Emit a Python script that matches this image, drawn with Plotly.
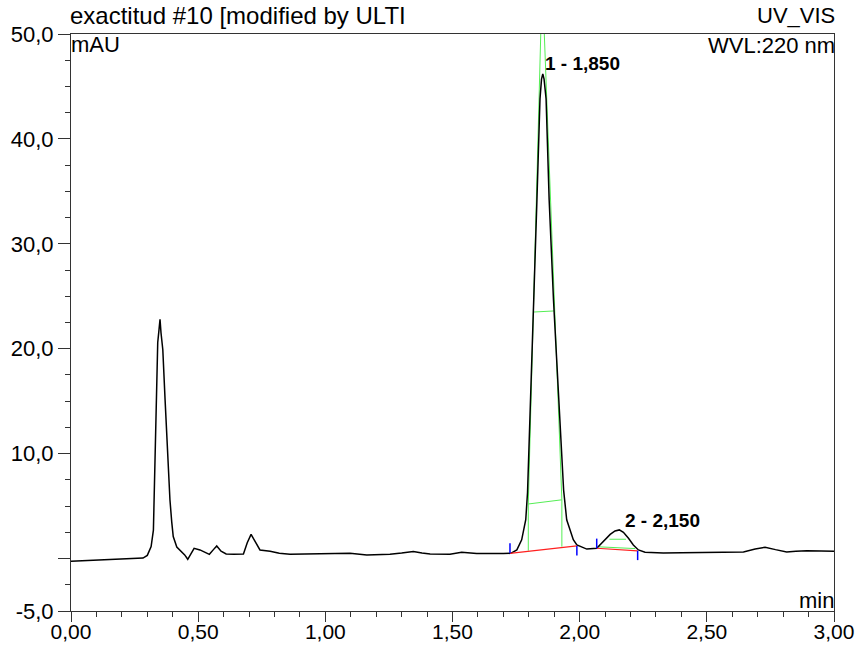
import plotly.graph_objects as go

# ---- chromatogram trace (min, mAU) ----
time_min = [0.000, 0.030, 0.080, 0.130, 0.180, 0.230, 0.270, 0.283, 0.300, 0.315,
            0.324, 0.328, 0.333, 0.337, 0.341, 0.346, 0.350, 0.354, 0.361, 0.370,
            0.379, 0.389, 0.396, 0.402, 0.416, 0.435, 0.447, 0.459, 0.470, 0.484,
            0.507, 0.525, 0.544, 0.560, 0.573, 0.590, 0.610, 0.640, 0.678, 0.693,
            0.708, 0.722, 0.743, 0.783, 0.819, 0.861, 0.920, 0.979, 1.040, 1.097,
            1.163, 1.254, 1.300, 1.346, 1.380, 1.412, 1.490, 1.536, 1.595, 1.650,
            1.700, 1.729, 1.753, 1.772, 1.781, 1.788, 1.795, 1.807, 1.821, 1.832,
            1.844, 1.850, 1.855, 1.860, 1.868, 1.880, 1.897, 1.917, 1.937, 1.949,
            1.962, 1.975, 1.989, 2.028, 2.067, 2.093, 2.120, 2.139, 2.156, 2.172,
            2.192, 2.211, 2.231, 2.257, 2.329, 2.400, 2.460, 2.565, 2.644, 2.690,
            2.729, 2.770, 2.814, 2.850, 2.893, 2.950, 3.000]
signal_mau = [-0.25, -0.22, -0.15, -0.08, -0.04, 0.00, 0.02, 0.05, 0.30, 1.14,
              2.70, 7.2, 13.5, 18.9, 20.6, 21.8, 22.8, 21.5, 19.9, 15.1,
              10.4, 5.6, 3.5, 2.1, 1.1, 0.66, 0.35, -0.07, 0.45, 0.98,
              0.82, 0.62, 0.40, 0.85, 1.20, 0.70, 0.44, 0.42, 0.44, 1.5,
              2.3, 1.7, 0.82, 0.70, 0.50, 0.41, 0.45, 0.44, 0.48, 0.50,
              0.34, 0.41, 0.52, 0.66, 0.52, 0.44, 0.41, 0.60, 0.47, 0.45,
              0.47, 0.50, 0.82, 1.78, 2.70, 3.70, 6.3, 15.1, 24.7, 34.2,
              43.8, 45.7, 46.2, 45.7, 43.8, 34.2, 24.7, 15.1, 6.5, 3.7,
              2.7, 1.8, 1.3, 0.9, 0.98, 1.6, 2.3, 2.63, 2.73, 2.5,
              1.94, 1.3, 0.82, 0.60, 0.53, 0.55, 0.56, 0.56, 0.63, 0.9,
              1.08, 0.85, 0.63, 0.70, 0.75, 0.72, 0.70]

# ---- integration marks ----
baseline_x = [1.726, 1.989, None, 2.067, 2.228]
baseline_y = [0.50, 1.20, None, 0.98, 0.74]
delim_x = [1.726, 1.726, None, 1.989, 1.989, None, 2.067, 2.067, None, 2.228, 2.228]
delim_y = [0.50, 1.45, None, 1.20, 0.30, None, 0.98, 1.90, None, 0.74, -0.15]
green_x = [1.798, 1.798, 1.847, None, 1.930, 1.930, 1.861, None,
           1.8206, 1.8983, None, 1.798, 1.930, None,
           2.117, 2.182, None, 2.074, 2.218]
green_y = [0.75, 5.2, 50.0, None, 1.13, 5.6, 50.0, None,
           23.5, 23.6, None, 5.2, 5.6, None,
           1.84, 1.84, None, 1.12, 0.95]

peak_labels = ["1 - 1,850", "2 - 2,150"]
peak_label_x = [1.856, 2.171]
peak_label_y = [47.2, 3.65]

x_tickvals = [0.0, 0.5, 1.0, 1.5, 2.0, 2.5, 3.0]
x_ticktext = ["0,00", "0,50", "1,00", "1,50", "2,00", "2,50", "3,00"]
y_tickvals = [-5, 0, 10, 20, 30, 40, 50]
y_ticktext = ["-5,0", "", "10,0", "20,0", "30,0", "40,0", "50,0"]

FONT = "Liberation Sans, Arial, sans-serif"
AX = "#333333"

fig = go.Figure()
fig.add_trace(go.Scatter(x=green_x, y=green_y, mode="lines",
                         line=dict(color="#55ee55", width=1), hoverinfo="skip"))
fig.add_trace(go.Scatter(x=time_min, y=signal_mau, mode="lines",
                         line=dict(color="black", width=1.5)))
fig.add_trace(go.Scatter(x=baseline_x, y=baseline_y, mode="lines",
                         line=dict(color="#ff2020", width=1.2), hoverinfo="skip"))
fig.add_trace(go.Scatter(x=delim_x, y=delim_y, mode="lines",
                         line=dict(color="#0000ff", width=1.5), hoverinfo="skip"))

for txt, px, py in zip(peak_labels, peak_label_x, peak_label_y):
    fig.add_annotation(x=px, y=py, xref="x", yref="y", text="<b>" + txt + "</b>",
                       showarrow=False, xanchor="left", yanchor="middle",
                       font=dict(family=FONT, size=19, color="black"))

def paper_text(text, x, y, xanchor, yshift, size=22, xshift=0):
    fig.add_annotation(x=x, y=y, xref="paper", yref="paper", text=text,
                       showarrow=False, xanchor=xanchor, yanchor="middle",
                       yshift=yshift, xshift=xshift,
                       font=dict(family=FONT, size=size, color="black"))

paper_text("exactitud #10 [modified by ULTI", 0, 1, "left", 19, size=24, xshift=-3)
paper_text("mAU", 0, 1, "left", -10, xshift=-2)
paper_text("UV_VIS", 1, 1, "right", 19, xshift=3)
paper_text("WVL:220 nm", 1, 1, "right", -11, xshift=3)
paper_text("min", 1, 0, "right", 11, xshift=2)

fig.update_layout(
    width=860, height=645,
    margin=dict(l=71, r=26, t=34, b=34),
    paper_bgcolor="white", plot_bgcolor="white",
    showlegend=False,
    font=dict(family=FONT, size=22, color="black"),
    xaxis=dict(range=[0, 3], showgrid=False, zeroline=False, automargin=False,
               showline=True, linecolor=AX, linewidth=1, mirror=True,
               tickmode="array", tickvals=x_tickvals, ticktext=x_ticktext,
               ticks="outside", ticklen=10, tickcolor=AX, tickwidth=1,
               ticklabelstandoff=-8,
               tickfont=dict(family=FONT, size=21, color="black"),
               minor=dict(dtick=0.1, tick0=0, ticks="outside", ticklen=5,
                          tickcolor=AX, showgrid=False)),
    yaxis=dict(range=[-5, 50], showgrid=False, zeroline=False, automargin=False,
               showline=True, linecolor=AX, linewidth=1, mirror=True,
               tickmode="array", tickvals=y_tickvals, ticktext=y_ticktext,
               ticks="outside", ticklen=12, tickcolor=AX, tickwidth=1,
               tickfont=dict(family=FONT, size=22, color="black"),
               minor=dict(dtick=2.5, tick0=0, ticks="outside", ticklen=5,
                          tickcolor=AX, showgrid=False)),
)

# place the figure at the page's top-left corner (no default body margin)
fig.write_html("out.html", config={"displayModeBar": False},
               post_script="document.body.style.margin='0';document.body.style.padding='0';")
